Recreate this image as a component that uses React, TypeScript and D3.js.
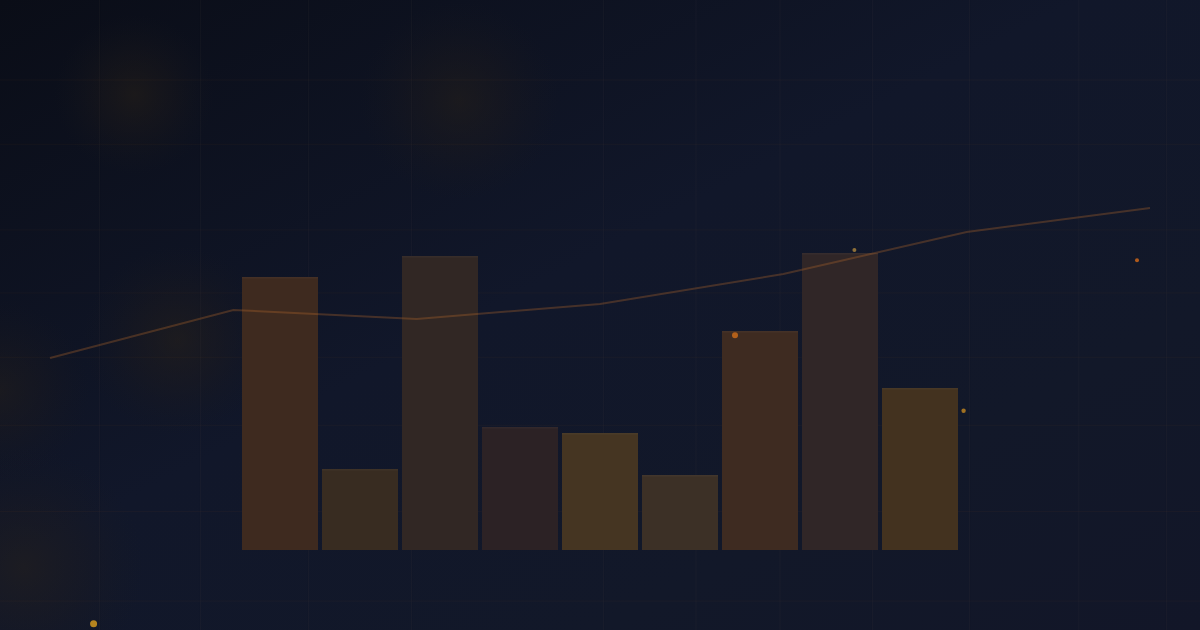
import React from "react";
import * as d3 from "d3";

const W = 1200;
const H = 630;

// bar series (9 bars, values on 0..100)
const barKeys = ["b1", "b2", "b3", "b4", "b5", "b6", "b7", "b8", "b9"];
const barValues = [91, 27, 98, 41, 39, 25, 73, 99, 54];
const barColors = ["#3e2a1f", "#382c21", "#312724", "#2c2225", "#453522", "#3c3026", "#3e2b21", "#302627", "#43321f"];

// trend line (7 points)
const lineKeys = ["p1", "p2", "p3", "p4", "p5", "p6", "p7"];
const lineValues = [64, 80, 77, 82, 92, 106, 114];

// faint grid, positions as fractions of the canvas
const gridCols = [0.083, 0.167, 0.257, 0.343, 0.503, 0.58, 0.65, 0.727, 0.808, 0.899, 0.972];
const gridRows = [0.127, 0.229, 0.365, 0.465, 0.567, 0.675, 0.812, 0.954];

// scattered sparks: [xFrac, yFrac, radius, colour]
const sparks: [number, number, number, string][] = [
  [0.078, 0.99, 3.5, "#c8901e"],
  [0.6125, 0.532, 3, "#c0661a"],
  [0.712, 0.397, 2, "#9c7a3a"],
  [0.803, 0.652, 2.2, "#b07a20"],
  [0.9475, 0.413, 2, "#c0601a"],
];

// warm glows: [xFrac, yFrac, radius, opacity]
const glows: [number, number, number, number][] = [
  [0.112, 0.15, 80, 0.55],
  [0.383, 0.16, 100, 0.5],
  [0.148, 0.54, 95, 0.55],
  [0.0, 0.62, 90, 0.45],
  [0.02, 0.9, 120, 0.5],
];

export default function App() {
  const x = d3.scaleBand<string>().domain(barKeys).range([240, 960]).paddingInner(0.05).paddingOuter(0.025);
  const y = d3.scaleLinear().domain([0, 100]).range([550, 250]);
  const xl = d3.scalePoint<string>().domain(lineKeys).range([50, 1150]);
  const fx = d3.scaleLinear().domain([0, 1]).range([0, W]);
  const fy = d3.scaleLinear().domain([0, 1]).range([0, H]);

  const line = d3
    .line<number>()
    .x((_, i) => xl(lineKeys[i]) as number)
    .y((d) => y(d));

  return (
    <svg
      width={W}
      height={H}
      viewBox={`0 0 ${W} ${H}`}
      style={{ position: "fixed", left: 0, top: 0, display: "block" }}
    >
      <defs>
        <linearGradient id="bg" x1="0" y1="0" x2="1" y2="1">
          <stop offset="0" stopColor="#0a0d17" />
          <stop offset="0.45" stopColor="#11172a" />
          <stop offset="0.75" stopColor="#121829" />
          <stop offset="1" stopColor="#121628" />
        </linearGradient>
        <radialGradient id="glow">
          <stop offset="0" stopColor="#2a2218" stopOpacity="0.9" />
          <stop offset="0.5" stopColor="#231d1a" stopOpacity="0.5" />
          <stop offset="1" stopColor="#1a1a1e" stopOpacity="0" />
        </radialGradient>
        <linearGradient id="rays" x1="0" y1="1" x2="1" y2="0">
          <stop offset="0" stopColor="#ffffff" stopOpacity="0.012" />
          <stop offset="1" stopColor="#ffffff" stopOpacity="0" />
        </linearGradient>
      </defs>

      <rect width={W} height={H} fill="url(#bg)" />

      {glows.map(([gx, gy, r, o], i) => (
        <circle key={i} cx={fx(gx)} cy={fy(gy)} r={r} fill="url(#glow)" opacity={o} />
      ))}

      <g strokeWidth={1}>
        {gridRows.map((r, i) => (
          <line key={i} x1={0} x2={W} y1={fy(r)} y2={fy(r)} stroke="#c87828" strokeOpacity={0.05} />
        ))}
        {gridCols.map((c, i) => (
          <line key={i} x1={fx(c)} x2={fx(c)} y1={0} y2={H} stroke="#8a7060" strokeOpacity={0.06} />
        ))}
      </g>

      <g>
        {barValues.map((v, i) => (
          <g key={barKeys[i]}>
            <rect
              x={x(barKeys[i])}
              y={y(v)}
              width={x.bandwidth()}
              height={y(0) - y(v)}
              fill={barColors[i]}
            />
            <rect x={x(barKeys[i])} y={y(v)} width={x.bandwidth()} height={1.5} fill="#ffffff" opacity={0.03} />
          </g>
        ))}
      </g>

      <path d={line(lineValues) ?? ""} fill="none" stroke="#b8692a" strokeOpacity={0.32} strokeWidth={2} />

      {sparks.map(([sx, sy, r, c], i) => (
        <circle key={i} cx={fx(sx)} cy={fy(sy)} r={r} fill={c} opacity={0.9} />
      ))}
    </svg>
  );
}
